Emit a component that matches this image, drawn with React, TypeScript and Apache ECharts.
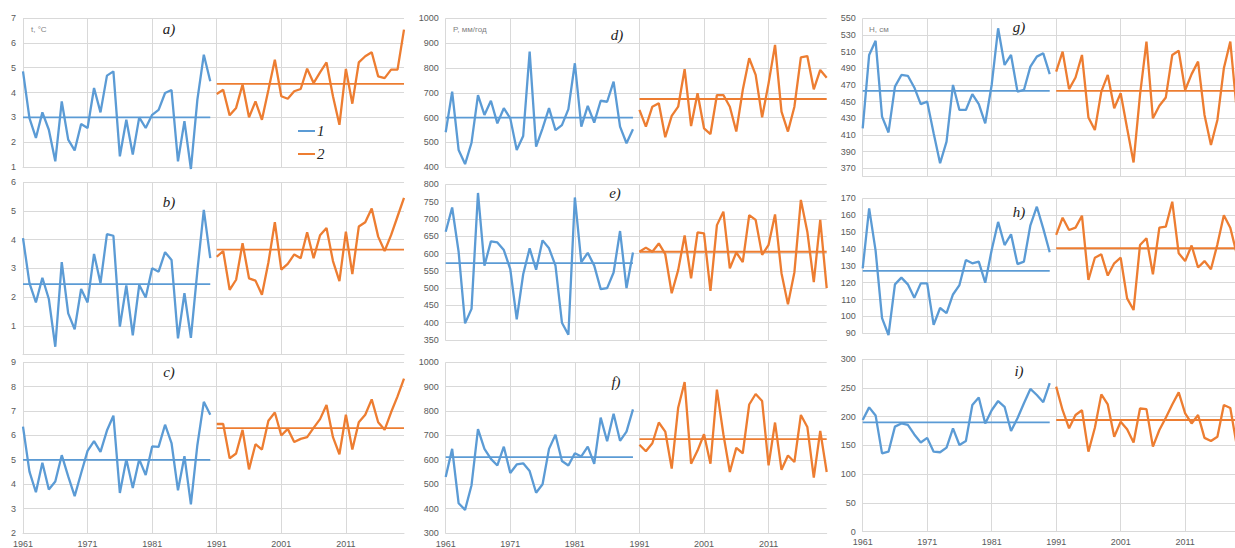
import React, { useEffect, useRef } from "react";
import * as echarts from "echarts";

// ---------- data ----------
const YEAR_START = 1961;
const YEAR_END = 2020;
const PERIOD2_START = 1991;

// a) temperature
const tempA1 = [4.85, 2.97, 2.17, 3.2, 2.5, 1.23, 3.64, 2.1, 1.67, 2.73, 2.57, 4.18, 3.2, 4.68, 4.85, 1.43, 2.9, 1.5, 3.0, 2.57, 3.1, 3.3, 3.98, 4.1, 1.23, 2.85, 0.92, 3.7, 5.52, 4.45];
const tempA2 = [3.94, 4.11, 3.08, 3.38, 4.32, 3.0, 3.64, 2.9, 4.1, 5.32, 3.85, 3.75, 4.05, 4.14, 4.96, 4.38, 4.81, 5.21, 3.85, 2.7, 4.95, 3.55, 5.21, 5.46, 5.62, 4.65, 4.58, 4.92, 4.92, 6.53];
const tempAMean = [3.0, 4.35];
// b)
const tempB1 = [4.05, 2.48, 1.81, 2.67, 1.93, 0.27, 3.21, 1.43, 0.88, 2.28, 1.81, 3.5, 2.48, 4.19, 4.13, 0.97, 2.4, 0.67, 2.42, 1.98, 3.0, 2.88, 3.56, 3.29, 0.56, 2.13, 0.58, 2.9, 5.03, 3.35];
const tempB2 = [3.4, 3.6, 2.25, 2.6, 3.87, 2.65, 2.57, 2.08, 3.2, 4.6, 2.95, 3.15, 3.48, 3.35, 4.25, 3.35, 4.15, 4.4, 3.25, 2.55, 4.27, 2.8, 4.45, 4.6, 5.08, 4.1, 3.6, 4.15, 4.8, 5.45];
const tempBMean = [2.45, 3.65];
// c)
const tempC1 = [6.36, 4.52, 3.67, 4.88, 3.78, 4.11, 5.19, 4.32, 3.51, 4.45, 5.37, 5.77, 5.33, 6.2, 6.81, 3.64, 5.02, 3.85, 5.02, 4.38, 5.55, 5.53, 6.44, 5.69, 3.75, 5.15, 3.17, 5.6, 7.38, 6.85];
const tempC2 = [6.47, 6.47, 5.06, 5.26, 6.23, 4.61, 5.64, 5.42, 6.6, 6.94, 6.0, 6.27, 5.73, 5.86, 5.93, 6.31, 6.67, 7.25, 5.93, 5.23, 6.85, 5.42, 6.54, 6.85, 7.48, 6.54, 6.23, 6.95, 7.6, 8.33];
const tempCMean = [5.0, 6.3];
// d) precipitation
const precD1 = [541, 705, 470, 413, 499, 691, 611, 668, 577, 638, 597, 470, 526, 866, 483, 557, 638, 550, 570, 634, 819, 564, 647, 580, 668, 664, 745, 564, 497, 553];
const precD2 = [631, 564, 644, 658, 521, 607, 644, 795, 566, 698, 557, 534, 691, 691, 644, 544, 711, 839, 772, 601, 738, 893, 624, 544, 644, 843, 848, 714, 792, 761];
const precDMean = [600, 675];
// e)
const precE1 = [663, 733, 605, 398, 440, 775, 565, 635, 632, 610, 555, 410, 540, 615, 553, 638, 615, 565, 400, 365, 762, 575, 602, 565, 497, 500, 545, 665, 500, 603];
const precE2 = [605, 617, 605, 629, 598, 485, 552, 652, 528, 661, 658, 492, 682, 721, 557, 603, 575, 711, 697, 596, 625, 713, 543, 453, 546, 755, 663, 517, 697, 500];
const precEMean = [572, 605];
// f)
const precF1 = [530, 645, 422, 395, 496, 726, 645, 604, 577, 654, 546, 581, 586, 554, 465, 500, 645, 703, 595, 577, 627, 614, 654, 584, 773, 676, 789, 678, 716, 807];
const precF2 = [662, 635, 668, 753, 716, 564, 814, 919, 584, 638, 705, 584, 888, 705, 550, 649, 627, 827, 870, 841, 577, 753, 559, 618, 591, 784, 735, 527, 719, 550];
const precFMean = [611, 685];
// g) water level
const levG1 = [418, 506, 523, 432, 413, 468, 482, 481, 467, 447, 450, 412, 376, 402, 470, 440, 440, 459, 447, 424, 470, 538, 494, 506, 462, 464, 492, 504, 508, 483];
const levG2 = [486, 510, 465, 479, 506, 431, 416, 462, 482, 442, 460, 418, 377, 458, 522, 430, 445, 455, 506, 511, 464, 483, 498, 434, 398, 428, 490, 522, 440, 470];
const levGMean = [463, 463];
// h)
const levH1 = [128.5, 164, 139, 99, 89, 119, 123, 119, 111, 119.6, 119.6, 95, 105, 102, 113, 118.6, 133.4, 131.5, 132.5, 120, 139.4, 156, 142.3, 148.7, 131, 132.5, 154, 165, 152, 138];
const levH2 = [148.3, 158.5, 151.2, 152.6, 159.7, 121.6, 134.8, 136.8, 124.2, 131.5, 134.8, 110.7, 103.8, 142.3, 146.3, 125, 152.6, 153.2, 168, 137.4, 132.8, 142, 129, 132.8, 128, 142.7, 160, 152.6, 137, 145];
const levHMean = [127, 140.4];
// i)
const levI1 = [194, 216, 202, 136, 139, 182.5, 188, 185.4, 169, 155, 163, 139, 138, 146, 179.6, 150.6, 157.6, 220, 233, 188, 211, 227, 217, 175, 197, 223, 248, 237.5, 225, 258];
const levI2 = [252, 211, 179.6, 202.7, 211, 139, 180.7, 238.6, 221, 165, 191, 178, 155, 214, 213, 147.7, 176.7, 198, 221, 242, 205.6, 188, 202.7, 163, 157.6, 165, 220, 215, 150, 170];
const levIMean = [190, 194];

const panelLetters = ["a)", "b)", "c)", "d)", "e)", "f)", "g)", "h)", "i)"];
const unitTitles = ["t, °C", "P, мм/год", "H, см"];
const legendNames = ["1", "2"];

// ---------- styles / layout ----------
const BLUE = "#5B9BD5";
const ORANGE = "#ED7D31";
const GRID = "#d9d9d9";
const LABEL = "#595959";

const colLeft = [23, 445.7, 862.7];
const colWidth = [381, 381, 380.5];

type Panel = {
  d1: number[];
  d2: number[];
  mean: number[];
  col: number;
  top: number;
  height: number;
  min: number;
  max: number;
  interval: number;
  showLabel: (v: number) => boolean;
  altLines?: boolean;
  xLabels: boolean;
  letterPos: [number, number];
};

const always = () => true;

const panels: Panel[] = [
  { d1: tempA1, d2: tempA2, mean: tempAMean, col: 0, top: 18, height: 149, min: 1, max: 7, interval: 1, showLabel: always, xLabels: false, letterPos: [169, 29] },
  { d1: tempB1, d2: tempB2, mean: tempBMean, col: 0, top: 182, height: 172.5, min: 0, max: 6, interval: 1, showLabel: (v) => v !== 0, xLabels: false, letterPos: [169, 202] },
  { d1: tempC1, d2: tempC2, mean: tempCMean, col: 0, top: 362.3, height: 173.4, min: 2, max: 9, interval: 1, showLabel: always, xLabels: true, letterPos: [169, 372] },
  { d1: precD1, d2: precD2, mean: precDMean, col: 1, top: 18.3, height: 149, min: 400, max: 1000, interval: 100, showLabel: always, xLabels: false, letterPos: [617, 35] },
  { d1: precE1, d2: precE2, mean: precEMean, col: 1, top: 184.3, height: 155.7, min: 350, max: 800, interval: 50, showLabel: always, xLabels: false, letterPos: [615, 193] },
  { d1: precF1, d2: precF2, mean: precFMean, col: 1, top: 362.3, height: 172.7, min: 300, max: 1000, interval: 100, showLabel: always, xLabels: true, letterPos: [616, 382] },
  { d1: levG1, d2: levG2, mean: levGMean, col: 2, top: 18.3, height: 158.3, min: 360, max: 550, interval: 10, showLabel: (v) => (v - 370) % 20 === 0, altLines: true, xLabels: false, letterPos: [1019, 27] },
  { d1: levH1, d2: levH2, mean: levHMean, col: 2, top: 198.3, height: 135, min: 90, max: 170, interval: 10, showLabel: always, xLabels: false, letterPos: [1019, 212] },
  { d1: levI1, d2: levI2, mean: levIMean, col: 2, top: 359, height: 172.7, min: 0, max: 300, interval: 50, showLabel: always, xLabels: true, letterPos: [1019, 371] },
];

const years: string[] = [];
for (let y = YEAR_START; y <= YEAR_END; y++) years.push(String(y));
const p1Start = String(YEAR_START);
const p1End = String(PERIOD2_START - 1);
const p2Start = String(PERIOD2_START);
const p2End = String(YEAR_END);

function buildOption(): echarts.EChartsOption {
  const grid: any[] = [];
  const xAxis: any[] = [];
  const yAxis: any[] = [];
  const series: any[] = [];

  panels.forEach((p, i) => {
    grid.push({ left: colLeft[p.col], top: p.top, width: colWidth[p.col], height: p.height, containLabel: false });
    xAxis.push({
      type: "category",
      gridIndex: i,
      data: years,
      boundaryGap: false,
      axisLine: { show: true, lineStyle: { color: GRID, width: 1 } },
      axisTick: { show: false },
      axisLabel: {
        show: p.xLabels,
        interval: 9,
        fontSize: 9,
        color: LABEL,
        fontFamily: "Liberation Sans, Arial, sans-serif",
        margin: 6,
      },
      splitLine: { show: true, interval: 9, lineStyle: { color: GRID, width: 1 } },
    });
    yAxis.push({
      type: "value",
      gridIndex: i,
      min: p.min,
      max: p.max,
      interval: p.interval,
      axisLine: { show: false },
      axisTick: { show: false },
      axisLabel: {
        fontSize: 9,
        color: LABEL,
        margin: 7,
        fontFamily: "Liberation Sans, Arial, sans-serif",
        formatter: (v: number) => (p.showLabel(v) ? String(v) : ""),
      },
      splitLine: {
        show: true,
        lineStyle: { color: p.altLines ? ["rgba(0,0,0,0)", GRID] : GRID, width: 1 },
      },
    });
    const s1 = p.d1.map((v, k) => [String(YEAR_START + k), v]);
    const s2 = p.d2.map((v, k) => [String(PERIOD2_START + k), v]);
    const common = { type: "line", xAxisIndex: i, yAxisIndex: i, symbol: "none", clip: false, silent: true };
    series.push({ ...common, name: legendNames[0], data: s1, lineStyle: { color: BLUE, width: 2.3 }, itemStyle: { color: BLUE } });
    series.push({ ...common, name: legendNames[0] + "m", data: [[p1Start, p.mean[0]], [p1End, p.mean[0]]], lineStyle: { color: BLUE, width: 1.8 } });
    series.push({ ...common, name: legendNames[1], data: s2, lineStyle: { color: ORANGE, width: 2.3 }, itemStyle: { color: ORANGE } });
    series.push({ ...common, name: legendNames[1] + "m", data: [[p2Start, p.mean[1]], [p2End, p.mean[1]]], lineStyle: { color: ORANGE, width: 1.8 } });
  });

  const graphic: any[] = [];
  panels.forEach((p, i) => {
    graphic.push({
      type: "text",
      x: p.letterPos[0],
      y: p.letterPos[1],
      style: {
        text: panelLetters[i],
        fontFamily: "Liberation Serif, Times New Roman, serif",
        fontStyle: "italic",
        fontSize: 15,
        fill: "#222",
        align: "center",
        verticalAlign: "middle",
      },
      z: 10,
    });
  });
  const unitPos: [number, number][] = [[31, 29], [453, 29], [869, 29]];
  unitTitles.forEach((t, k) => {
    graphic.push({
      type: "text",
      x: unitPos[k][0],
      y: unitPos[k][1],
      style: { text: t, fontFamily: "Liberation Sans, Arial, sans-serif", fontSize: 8, fill: "#7f7f7f", verticalAlign: "middle" },
      z: 10,
    });
  });
  // legend
  const legY = [131, 154];
  const legColors = [BLUE, ORANGE];
  legendNames.forEach((n, k) => {
    graphic.push({
      type: "line",
      shape: { x1: 298, y1: legY[k], x2: 315, y2: legY[k] },
      style: { stroke: legColors[k], lineWidth: 2 },
      z: 10,
    });
    graphic.push({
      type: "text",
      x: 317,
      y: legY[k],
      style: {
        text: n,
        fontFamily: "Liberation Serif, Times New Roman, serif",
        fontStyle: "italic",
        fontSize: 15,
        fill: "#222",
        verticalAlign: "middle",
      },
      z: 10,
    });
  });

  return { animation: false, backgroundColor: "#ffffff", grid, xAxis, yAxis, series, graphic } as any;
}

export default function App() {
  const ref = useRef<HTMLDivElement>(null);
  useEffect(() => {
    if (!ref.current) return;
    const chart = echarts.init(ref.current, undefined, { renderer: "svg" });
    chart.setOption(buildOption());
    return () => chart.dispose();
  }, []);
  return (
    <div style={{ position: "absolute", left: 0, top: 0, width: 1235, height: 548, overflow: "hidden", background: "#fff" }}>
      <div ref={ref} style={{ width: 1250, height: 548 }} />
    </div>
  );
}
